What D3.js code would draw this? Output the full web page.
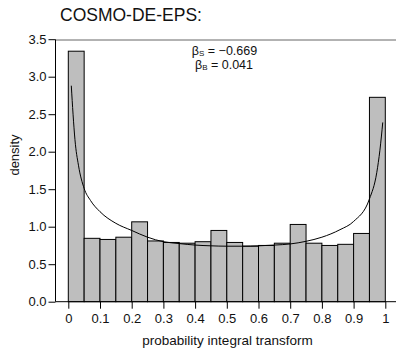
<!DOCTYPE html>
<html>
<head>
<meta charset="utf-8">
<script src="https://cdn.jsdelivr.net/npm/d3@7"></script>
<style>
  body { margin: 0; background: #fff; }
  svg { display: block; font-family: "Liberation Sans", Arial, sans-serif; }
</style>
</head>
<body>
<div id="chart"></div>
<script>
// histogram bins (width 0.05) and their densities
const binStarts = [0, 0.05, 0.1, 0.15, 0.2, 0.25, 0.3, 0.35, 0.4, 0.45,
  0.5, 0.55, 0.6, 0.65, 0.7, 0.75, 0.8, 0.85, 0.9, 0.95];
const densities = [3.34, 0.845, 0.83, 0.86, 1.065, 0.81, 0.79, 0.78, 0.80, 0.95,
  0.79, 0.74, 0.75, 0.78, 1.03, 0.78, 0.75, 0.765, 0.91, 2.725];

// fitted curve
const curveX = [0.0095, 0.015, 0.021, 0.032, 0.05, 0.07, 0.1, 0.15, 0.2, 0.25,
  0.3, 0.35, 0.4, 0.45, 0.5, 0.55, 0.6, 0.65, 0.7, 0.75, 0.8, 0.857, 0.9,
  0.95, 0.973, 0.983, 0.992];
const curveY = [2.88, 2.5, 2.16, 1.82, 1.51, 1.35, 1.2, 1.045, 0.95, 0.86,
  0.8, 0.775, 0.755, 0.745, 0.74, 0.74, 0.745, 0.755, 0.77, 0.805, 0.86, 0.96, 1.07,
  1.37, 1.72, 2.02, 2.39];

const xTicks = [0, 0.1, 0.2, 0.3, 0.4, 0.5, 0.6, 0.7, 0.8, 0.9, 1];
const yTicks = [0, 0.5, 1, 1.5, 2, 2.5, 3, 3.5];
const binWidth = 0.05;

const width = 396;
const height = 349;

const svg = d3.select('#chart')
    .append('svg')
    .attr('width', width)
    .attr('height', height);

const x = d3.scaleLinear().domain([0, 1]).range([68.3, 385.3]);
const y = d3.scaleLinear().domain([0, 3.5]).range([301.7, 39.2]);

// title
svg.append('text')
    .attr('x', 60)
    .attr('y', 21)
    .attr('font-size', 17.5)
    .attr('fill', '#111')
    .text('COSMO-DE-EPS:');

// bars
svg.selectAll('rect.bar')
    .data(binStarts)
    .enter()
    .append('rect')
    .attr('class', 'bar')
    .attr('x', (d) => x(d))
    .attr('y', (d, i) => y(densities[i]))
    .attr('width', (d) => x(d + binWidth) - x(d))
    .attr('height', (d, i) => y(0) - y(densities[i]))
    .attr('fill', '#bebebe')
    .attr('stroke', '#000')
    .attr('stroke-width', 1);

// curve
const line = d3.line()
    .x((d) => x(d))
    .y((d, i) => y(curveY[i]))
    .curve(d3.curveMonotoneX);

svg.append('path')
    .datum(curveX)
    .attr('d', line)
    .attr('fill', 'none')
    .attr('stroke', '#000')
    .attr('stroke-width', 1);

// frame top line
svg.append('line')
    .attr('x1', 55.5).attr('x2', width)
    .attr('y1', 40).attr('y2', 40)
    .attr('stroke', '#666')
    .attr('stroke-width', 1);

// left axis
const yAxis = svg.append('g')
    .attr('transform', 'translate(55.5,0)')
    .call(d3.axisLeft(y)
        .tickValues(yTicks)
        .tickFormat(d3.format('.1f'))
        .tickSize(7)
        .tickSizeOuter(0));
yAxis.select('.domain').remove();
yAxis.append('line')
    .attr('x1', 0).attr('x2', 0)
    .attr('y1', 39.5).attr('y2', y(0))
    .attr('stroke', '#000');
yAxis.selectAll('text')
    .attr('font-size', 13)
    .attr('font-family', '"Liberation Sans", Arial, sans-serif')
    .attr('fill', '#111')
    .attr('x', -9);

// bottom axis
const xAxis = svg.append('g')
    .attr('transform', 'translate(0,' + y(0) + ')')
    .call(d3.axisBottom(x)
        .tickValues(xTicks)
        .tickFormat((d) => d3.format('')(+d.toFixed(1)))
        .tickSize(7)
        .tickSizeOuter(0));
xAxis.select('.domain').remove();
xAxis.append('line')
    .attr('x1', 55.5).attr('x2', width)
    .attr('y1', 0).attr('y2', 0)
    .attr('stroke', '#000');
xAxis.selectAll('text')
    .attr('font-size', 13)
    .attr('font-family', '"Liberation Sans", Arial, sans-serif')
    .attr('fill', '#111')
    .attr('y', 12);

// axis labels
svg.append('text')
    .attr('x', 227.5)
    .attr('y', 345)
    .attr('text-anchor', 'middle')
    .attr('font-size', 13.5)
    .attr('fill', '#111')
    .text('probability integral transform');

svg.append('text')
    .attr('transform', 'translate(19,155) rotate(-90)')
    .attr('text-anchor', 'middle')
    .attr('font-size', 13)
    .attr('fill', '#111')
    .text('density');

// annotation
const note = svg.append('g').attr('font-size', 12.5).attr('fill', '#111');
const l1 = note.append('text').attr('x', 224.5).attr('y', 55).attr('text-anchor', 'middle');
l1.append('tspan').text('β');
l1.append('tspan').attr('font-size', 8).attr('dy', 1).text('S');
l1.append('tspan').attr('dy', -1).text(' = −0.669');
const l2 = note.append('text').attr('x', 224).attr('y', 68.5).attr('text-anchor', 'middle');
l2.append('tspan').text('β');
l2.append('tspan').attr('font-size', 8).attr('dy', 1).text('B');
l2.append('tspan').attr('dy', -1).text(' = 0.041');
</script>
</body>
</html>
